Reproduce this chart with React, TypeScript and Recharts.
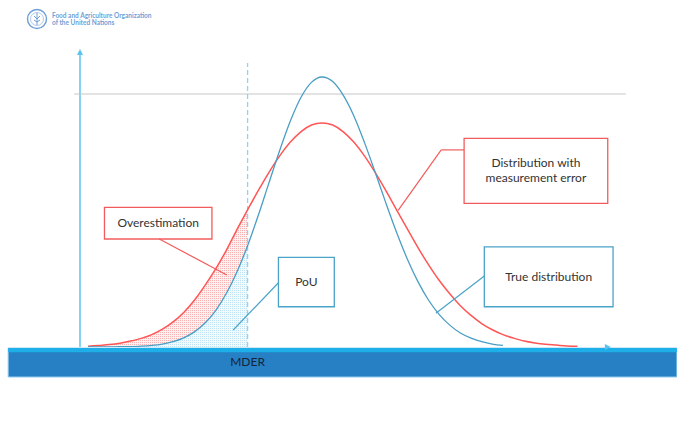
import {
  ComposedChart,
  Line,
  Area,
  XAxis,
  YAxis,
  ReferenceLine,
  ReferenceArea,
  ReferenceDot,
} from 'recharts'

const FONT = 'Lato, "Open Sans", "Liberation Sans", sans-serif'

const RED = '#ff5656'
const BLUE = '#4a9ec4'
const AXIS = '#5cc3ef'

// dietary energy intake (chart units)
const intake = [
  1.5, 3.5, 5.5, 7.5, 9.5, 11.5, 13.5, 15.5, 17.5, 19.5, 21.5, 23.5, 25.5, 27.5, 29.5, 31.5,
  33.5, 35.5, 37.5, 39.5, 41.5, 43.5, 45.5, 47.5, 49.5, 51.5, 53.5, 55.5, 57.5, 59.5, 61.5,
  63.5, 65.5, 67.5, 69.5, 71.5, 73.5, 75.5, 77.5, 79.5, 81.5, 83.5, 85.5, 87.5, 89.5, 91.5, 93.5,
]

// density of the distribution observed with measurement error
const measuredDist = [
  0.3, 0.6, 0.9, 1.4, 2.2, 3.2, 4.6, 6.6, 9.3, 12.8, 17.3, 22.8, 28.9, 35.8, 43.5, 50.8,
  57.9, 64.6, 70.7, 75.8, 79.7, 82.2, 83.0, 82.2, 79.7, 75.8, 70.7, 64.6, 57.9, 50.8, 43.8,
  36.9, 30.5, 24.7, 19.7, 15.3, 11.7, 8.7, 6.4, 4.6, 3.3, 2.2, 1.5, 1.0, 0.7, 0.4, 0.3,
]

// density of the true distribution
const trueDist: (number | null)[] = [
  0, 0, 0, 0.1, 0.1, 0.3, 0.6, 1.1, 2.0, 3.4, 5.6, 8.9, 13.5, 19.8, 27.8, 37.5,
  48.7, 60.7, 72.6, 83.5, 92.3, 98.0, 100, 98.3, 93.2, 85.5, 75.6, 64.6, 53.3, 42.5, 32.7,
  24.3, 17.4, 12.1, 8.1, 5.2, 3.3, 2.0, 1.1, 0.6, null, null, null, null, null, null, null,
]

// minimum dietary energy requirement
const MDER = 31.5

const data = intake.map((x, i) => ({
  x,
  measured: measuredDist[i],
  true: trueDist[i],
  measuredBelow: x <= MDER ? measuredDist[i] : null,
  trueBelow: x <= MDER ? trueDist[i] : null,
}))

type Callout = {
  lines: string[]
  x1: number
  x2: number
  y1: number
  y2: number
  color: string
  leader: [number, number][]
}

const callouts: Callout[] = [
  { lines: ['Overestimation'], x1: 4.6, x2: 24.8, y1: 40, y2: 51.7, color: '#f25c5c', leader: [[14.9, 40], [27.6, 26.7]] },
  { lines: ['PoU'], x1: 37.3, x2: 47.8, y1: 14.9, y2: 33.2, color: '#4aa3c8', leader: [[37.3, 23.8], [28.8, 6.3]] },
  {
    lines: ['Distribution with', 'measurement error'],
    x1: 72.2, x2: 99.2, y1: 53.2, y2: 77.3, color: '#f25c5c',
    leader: [[72.2, 73], [67.9, 73], [59.8, 50.6]],
  },
  { lines: ['True distribution'], x1: 76, x2: 100.2, y1: 14.9, y2: 37.1, color: '#4aa3c8', leader: [[76, 26.3], [66.9, 12.5]] },
]

function TextShape(lines: string[], color = '#333333') {
  return (p: any) => (
    <text x={p.cx} y={p.cy} textAnchor="middle" fill={color} fontSize={12} fontFamily={FONT}>
      {lines.map((l, i) => (
        <tspan key={i} x={p.cx} dy={i === 0 ? 4 - ((lines.length - 1) * 15) / 2 : 15}>
          {l}
        </tspan>
      ))}
    </text>
  )
}

function Logo() {
  return (
    <div style={{ position: 'absolute', left: 26, top: 8, display: 'flex', alignItems: 'center' }}>
      <svg width={22} height={22}>
        <circle cx={11} cy={11} r={9.5} fill="none" stroke="#6f9fd6" strokeWidth={1.4} />
        <circle cx={11} cy={11} r={6.5} fill="none" stroke="#9bbde6" strokeWidth={0.8} />
        <path d="M11 5 L11 17 M8 8 L11 11 L14 8 M8 12 L11 14 L14 12" stroke="#6f9fd6" strokeWidth={1} fill="none" />
      </svg>
      <div style={{ marginLeft: 4, fontFamily: FONT, fontWeight: 700, fontSize: 6.5, lineHeight: '7.5px', color: '#6f9fd6' }}>
        <div>Food and Agriculture Organization</div>
        <div>of the United Nations</div>
      </div>
    </div>
  )
}

export default function App() {
  return (
    <div style={{ position: 'absolute', left: 0, top: 0, width: 677, height: 430, background: '#fff', overflow: 'hidden' }}>
      <Logo />
      <ComposedChart
        width={677}
        height={430}
        data={data}
        margin={{ top: 50, right: 65, bottom: 83, left: 80 }}
        style={{ position: 'absolute', left: 0, top: 0 }}
      >
        <defs>
          <pattern id="dotsRed" width={2} height={2} patternUnits="userSpaceOnUse">
            <rect width={2} height={2} fill="#fff0f0" />
            <rect width={1} height={1} fill="#f7b3b3" />
          </pattern>
          <pattern id="dotsBlue" width={2} height={2} patternUnits="userSpaceOnUse">
            <rect width={2} height={2} fill="#f2fafe" />
            <rect width={1} height={1} fill="#bfe3f5" />
          </pattern>
        </defs>

        <XAxis
          dataKey="x"
          type="number"
          domain={[0, 100]}
          allowDataOverflow
          tick={false}
          tickLine={false}
          height={0}
          axisLine={{ stroke: AXIS, strokeWidth: 1.5 }}
        />
        <YAxis type="number" domain={[0, 110]} allowDataOverflow hide />

        {/* blue band under the axis */}
        <ReferenceArea x1={-13.5} x2={112.2} y1={-11.1} y2={-0.4} fill="#2780c4" fillOpacity={1} stroke="#8cc9ee" strokeWidth={1} ifOverflow="visible" />
        <ReferenceArea x1={-13.5} x2={112.2} y1={-1.9} y2={-0.4} fill="#1eafe8" fillOpacity={1} ifOverflow="visible" />
        <ReferenceDot x={MDER} y={-5.6} r={0} ifOverflow="visible" shape={TextShape(['MDER'], '#15253a')} />

        {/* vertical axis */}
        <ReferenceLine
          segment={[{ x: 0, y: 0 }, { x: 0, y: 109 }]}
          stroke={AXIS}
          strokeWidth={1.5}
          ifOverflow="visible"
        />

        {/* reference level */}
        <ReferenceLine
          segment={[{ x: -1.1, y: 93.7 }, { x: 102.6, y: 93.7 }]}
          stroke="#c8c8c8"
          strokeWidth={1.2}
          ifOverflow="visible"
        />

        <Area
          type="monotone"
          dataKey="measuredBelow"
          stroke="none"
          fill="url(#dotsRed)"
          fillOpacity={1}
          isAnimationActive={false}
        />
        <Area
          type="monotone"
          dataKey="trueBelow"
          stroke="none"
          fill="url(#dotsBlue)"
          fillOpacity={1}
          isAnimationActive={false}
        />

        <ReferenceLine
          segment={[{ x: MDER, y: 0 }, { x: MDER, y: 105.2 }]}
          stroke="#8fd4f1"
          strokeWidth={1.3}
          strokeDasharray="5 3"
          ifOverflow="visible"
        />

        <Line type="monotone" dataKey="measured" stroke={RED} strokeWidth={1.5} dot={false} isAnimationActive={false} />
        <Line type="monotone" dataKey="true" stroke={BLUE} strokeWidth={1.3} dot={false} isAnimationActive={false} />

        {/* arrowheads */}
        <ReferenceDot
          x={0}
          y={110}
          r={0}
          ifOverflow="visible"
          shape={(p: any) => <path d={`M${p.cx},${p.cy - 1} l-3,6 l6,0 z`} fill={AXIS} />}
        />
        <ReferenceDot
          x={99.6}
          y={0}
          r={0}
          ifOverflow="visible"
          shape={(p: any) => <path d={`M${p.cx + 1},${p.cy} l-6,-3 l0,6 z`} fill={AXIS} />}
        />

        {callouts.map((c, i) =>
          c.leader.slice(1).map((pt, j) => (
            <ReferenceLine
              key={`l${i}-${j}`}
              segment={[
                { x: c.leader[j][0], y: c.leader[j][1] },
                { x: pt[0], y: pt[1] },
              ]}
              stroke={c.color}
              strokeWidth={1.2}
              ifOverflow="visible"
            />
          )),
        )}
        {callouts.map((c, i) => (
          <ReferenceArea
            key={`b${i}`}
            x1={c.x1}
            x2={c.x2}
            y1={c.y1}
            y2={c.y2}
            fill="#ffffff"
            fillOpacity={1}
            stroke={c.color}
            strokeWidth={1.3}
            ifOverflow="visible"
          />
        ))}
        {callouts.map((c, i) => (
          <ReferenceDot
            key={`t${i}`}
            x={(c.x1 + c.x2) / 2}
            y={(c.y1 + c.y2) / 2}
            r={0}
            ifOverflow="visible"
            shape={TextShape(c.lines)}
          />
        ))}
      </ComposedChart>
    </div>
  )
}
